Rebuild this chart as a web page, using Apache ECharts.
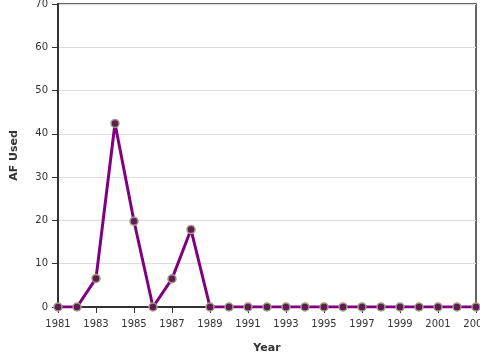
<!DOCTYPE html>
<html><head><meta charset="utf-8">
<script src="https://cdn.jsdelivr.net/npm/echarts@6/dist/echarts.min.js"></script>
<style>html,body{margin:0;padding:0;background:#fff}#c{width:480px;height:360px}</style>
</head><body><div id="c"></div>
<script>
const years = ['1981','1982','1983','1984','1985','1986','1987','1988','1989','1990','1991','1992','1993','1994','1995','1996','1997','1998','1999','2000','2001','2002','2003'];
const afUsed = [0,0,6.6,42.4,19.8,0,6.5,17.9,0,0,0,0,0,0,0,0,0,0,0,0,0,0,0];
const yTicks = {min:0, max:70, interval:10};
const font = 'DejaVu Sans';
const chart = echarts.init(document.getElementById('c'));
chart.setOption({
  animation:false,
  grid:{left:58,right:4,top:4,bottom:53,containLabel:false,outerBoundsMode:'none',show:true,borderColor:'#333',borderWidth:1.5,backgroundColor:'transparent'},
  xAxis:{type:'category',data:years,boundaryGap:false,name:'Year',nameLocation:'middle',nameGap:36,
    nameTextStyle:{fontFamily:font,fontWeight:'bold',fontSize:11,color:'#333'},
    axisLine:{lineStyle:{color:'#333',width:2}},
    axisTick:{alignWithLabel:true,interval:1,length:6,lineStyle:{color:'#333'}},
    axisLabel:{interval:1,fontFamily:font,fontSize:10,color:'#333',margin:12,hideOverlap:false},
    splitLine:{show:false}},
  yAxis:{type:'value',min:yTicks.min,max:yTicks.max,interval:yTicks.interval,name:'AF Used',nameLocation:'middle',nameGap:38,
    nameTextStyle:{fontFamily:font,fontWeight:'bold',fontSize:11,color:'#333'},
    axisLine:{show:true,lineStyle:{color:'#333',width:2}},
    axisTick:{show:true,length:6,lineStyle:{color:'#333'}},
    axisLabel:{fontFamily:font,fontSize:10,color:'#333',margin:10},
    splitLine:{lineStyle:{color:'#ddd'}}},
  series:[{type:'line',data:afUsed,symbol:'circle',symbolSize:8,
    lineStyle:{color:'#800080',width:3},
    itemStyle:{color:'#5a1f50',borderColor:'#a89888',borderWidth:1.5}}]
});
</script></body></html>
